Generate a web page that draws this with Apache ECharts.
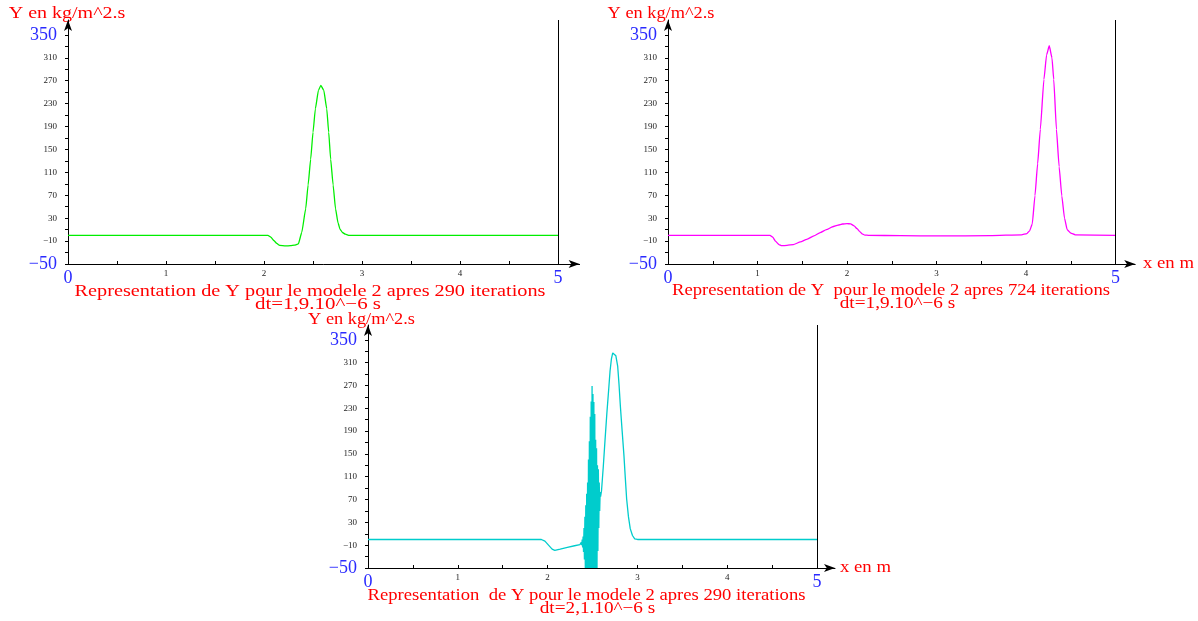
<!DOCTYPE html>
<html><head><meta charset="utf-8">
<script src="https://cdn.jsdelivr.net/npm/echarts@6/dist/echarts.min.js"></script>
<style>html,body{margin:0;padding:0;background:#fff}#c{width:1198px;height:621px}</style>
</head><body><div id="c"></div>
<script>
// ---- data ----
// chart 1 (top-left, green): 290 iterations, dt=1,9e-6
const xA = [0, 2.04, 2.07, 2.10, 2.13, 2.16, 2.22, 2.27, 2.31, 2.35, 2.385, 2.425, 2.45, 2.476, 2.50, 2.524, 2.555, 2.58, 2.61, 2.64, 2.66, 2.68, 2.705, 2.73, 2.755, 2.775, 2.80, 2.83, 2.87, 5];
const yA = [0, 0, -3, -9, -14, -17.5, -18.5, -18, -17, -15, 5, 46, 88, 133, 180, 221, 253, 262, 253, 221, 180, 133, 88, 46, 22, 11, 5, 2, 0, 0];
// chart 2 (top-right, magenta): 724 iterations
const xB = [0, 1.14, 1.17, 1.20, 1.24, 1.27, 1.33, 1.40, 1.48, 1.55, 1.63, 1.70, 1.77, 1.84, 1.90, 1.95, 2.0, 2.04, 2.08, 2.11, 2.14, 2.17, 2.20, 2.24, 2.6, 3.04, 3.6, 3.95, 4.01, 4.04, 4.07, 4.10, 4.13, 4.16, 4.20, 4.23, 4.26, 4.29, 4.31, 4.34, 4.37, 4.40, 4.43, 4.46, 4.50, 4.55, 5];
const yB = [0, 0, -3, -10, -16, -18, -17.5, -16, -11.5, -7, -1, 4.8, 10, 15, 18, 19.8, 20.5, 20, 16.5, 12, 7, 2.5, 0.5, 0, -0.5, -1, -0.5, 1, 3, 8, 20, 69, 125, 185, 272, 315, 331, 310, 272, 185, 120, 69, 30, 10, 4, 1, 0];
// chart 3 (bottom, cyan): 290 iterations, dt=2,1e-6 (oscillating)
const xC = [0, 1.93, 1.97, 2.01, 2.05, 2.08, 2.14, 2.22, 2.30, 2.36, 2.37, 2.375, 2.38, 2.385, 2.39, 2.395, 2.40, 2.405, 2.41, 2.415, 2.42, 2.425, 2.43, 2.435, 2.44, 2.445, 2.45, 2.455, 2.46, 2.465, 2.47, 2.475, 2.48, 2.485, 2.49, 2.495, 2.50, 2.505, 2.51, 2.515, 2.52, 2.525, 2.53, 2.535, 2.54, 2.545, 2.55, 2.555, 2.56, 2.565, 2.57, 2.575, 2.58, 2.585, 2.59, 2.60, 2.62, 2.64, 2.66, 2.68, 2.695, 2.71, 2.725, 2.74, 2.76, 2.78, 2.795, 2.81, 2.83, 2.85, 2.865, 2.88, 2.90, 2.92, 2.945, 2.97, 3.0, 5];
const yC = [0, 0, -3, -10, -17, -19, -17, -14, -11, -9, -7, -5, -10, 0, -14, 5, -22, 20, -35, 40, -50, 60, -50, 80, -50, 100, -50, 140, -50, 172, -50, 215, -50, 242, -50, 269, -50, 255, -50, 241, -50, 220, -50, 175, -50, 160, -50, 130, -20, 123, 20, 100, 50, 83, 75, 85, 128, 176, 222, 263, 295, 316, 327, 329, 322, 304, 272, 234, 190, 147, 108, 71, 40, 19, 7, 1, 0, 0];

const yTickValues = [-50, -30, -10, 10, 30, 50, 70, 90, 110, 130, 150, 170, 190, 210, 230, 250, 270, 290, 310, 330, 350];
const yLabelValues = [-50, -10, 30, 70, 110, 150, 190, 230, 270, 310, 350];
const xTickValues = [0, 0.5, 1, 1.5, 2, 2.5, 3, 3.5, 4, 4.5, 5];
const xLabelValues = [0, 1, 2, 3, 4, 5];

const yLabelText = 'Y en kg/m^2.s';
const xLabelText = 'x en m';
const titles1 = ['Representation de Y pour le modele 2 apres 290 iterations', 'Representation de Y  pour le modele 2 apres 724 iterations', 'Representation  de Y pour le modele 2 apres 290 iterations'];
const titles2 = ['dt=1,9.10^\u22126 s', 'dt=1,9.10^\u22126 s', 'dt=2,1.10^\u22126 s'];
const colors = ['#00ee00', '#ff00ff', '#00cccc'];

// ---- chart ----
const FONT = '"Liberation Serif", "Times New Roman", serif';
const RED = '#ff0000', BLUE = '#2a2aff';
const chart = echarts.init(document.getElementById('c'), null, {renderer: 'canvas'});

const grids = [
  {left: 68, top: 20, width: 511.6, height: 244},
  {left: 668, top: 20, width: 467.2, height: 244},
  {left: 368, top: 325, width: 467, height: 243}
];
const xMax = [5.22, 5.22, 5.2];

function fmtY(v) {
  const s = v < 0 ? '\u2212' + Math.abs(v) : String(v);
  return (v === -50 || v === 350) ? '{b|' + s + '}' : s;
}
function fmtX(v) {
  return (v === 0 || v === 5) ? '{b|' + v + '}' : String(v);
}
const richB = {b: {color: BLUE, fontSize: 18, fontFamily: FONT}};

const xAxes = grids.map((g, i) => ({
  type: 'value', gridIndex: i, min: 0, max: xMax[i],
  splitLine: {show: false},
  axisLine: {onZero: false, lineStyle: {color: '#000', width: 1}, symbol: ['none', 'arrow'], symbolSize: [6, 11]},
  axisTick: {show: true, inside: true, length: 3, customValues: xTickValues, lineStyle: {color: '#000'}},
  axisLabel: {customValues: xLabelValues, formatter: fmtX, color: '#222', fontSize: 9, fontFamily: FONT, margin: 5, rich: richB}
}));
const yAxes = grids.map((g, i) => ({
  type: 'value', gridIndex: i, min: -50, max: 376,
  splitLine: {show: false},
  axisLine: {onZero: false, lineStyle: {color: '#000', width: 1}, symbol: ['none', 'arrow'], symbolSize: [6, 11]},
  axisTick: {show: true, length: 3, customValues: yTickValues, lineStyle: {color: '#000'}},
  axisLabel: {customValues: yLabelValues, formatter: fmtY, color: '#222', fontSize: 9, fontFamily: FONT, margin: 11, rich: richB}
}));

const dataSets = [[xA, yA], [xB, yB], [xC, yC]];
const series = dataSets.map((d, i) => ({
  type: 'line', xAxisIndex: i, yAxisIndex: i,
  data: d[0].map((x, k) => [x, d[1][k]]),
  showSymbol: false, symbol: 'none',
  smooth: i < 2 ? 0.15 : false, smoothMonotone: 'x',
  lineStyle: {color: colors[i], width: 1.3},
  clip: true, animation: false,
  markLine: {
    silent: true, symbol: ['none', 'none'], animation: false,
    label: {show: false},
    lineStyle: {color: '#000', type: 'solid', width: 1},
    data: [{xAxis: 5}]
  }
}));

// positions / horizontal stretch of the free texts
const yLabPos = [[67, 14], [661, 14], [361.5, 320]];
const yLabScale = [1.25, 1.145, 1.145];
const t1Pos = [[310, 292], [891, 291], [586.5, 596]];
const t1Scale = [1.266, 1.165, 1.165];
const t2Pos = [[318, 305], [897.5, 304], [597.5, 609]];
const t2Scale = [1.31, 1.2, 1.2];
const xNamePos = [null, [1143, 264], [840, 568]];
const graphics = [];
function addText(txt, pos, size, sx, align) {
  graphics.push({
    type: 'text', x: pos[0], y: pos[1], scaleX: sx, scaleY: 1, silent: true,
    style: {text: txt, fill: RED, font: size + 'px ' + FONT, textAlign: align, textVerticalAlign: 'middle', align: align, verticalAlign: 'middle'}
  });
}
for (let i = 0; i < 3; i++) {
  addText(yLabelText, yLabPos[i], 16, yLabScale[i], 'center');
  addText(titles1[i], t1Pos[i], 16, t1Scale[i], 'center');
  addText(titles2[i], t2Pos[i], 16, t2Scale[i], 'center');
  if (xNamePos[i]) addText(xLabelText, xNamePos[i], 16, 1.17, 'left');
}

chart.setOption({
  animation: false,
  backgroundColor: '#fff',
  grid: grids,
  xAxis: xAxes,
  yAxis: yAxes,
  series: series,
  graphic: graphics
});
</script></body></html>
